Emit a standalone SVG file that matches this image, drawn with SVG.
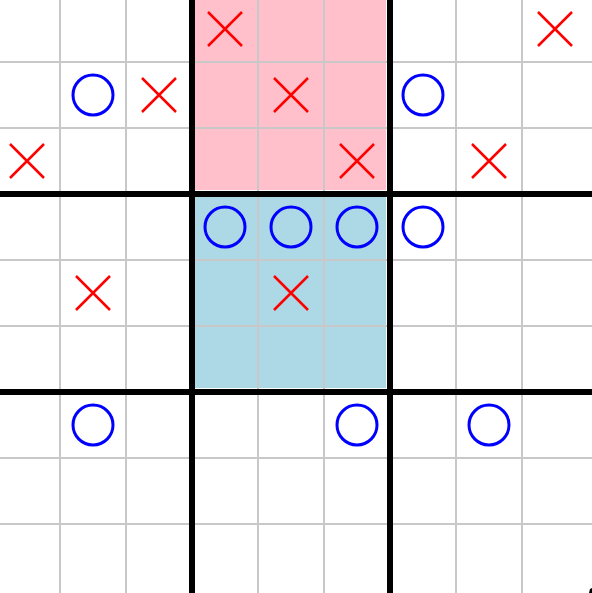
<svg xmlns="http://www.w3.org/2000/svg" width="592" height="593" viewBox="0 0 592 593">
  <style>
    .thin { stroke: #c8c8c8; stroke-width: 2; }
    .thick { stroke: #000; stroke-width: 6; }
    .o { fill: none; stroke: #0000ff; stroke-width: 3; }
    .x { stroke: #ff0000; stroke-width: 2.5; }
  </style>
  <defs>
    <circle id="O" r="20" class="o"/>
    <path id="X" d="M-17,-17 L17,17 M-17,17 L17,-17" class="x"/>
  </defs>
  <rect width="592" height="593" fill="#fff"/>
  <g id="fills">
    <rect x="192" y="-4" width="194" height="194" fill="#ffc0cb"/>
    <rect x="192" y="194" width="194" height="194" fill="#add8e6"/>
  </g>
  <g id="grid">
    <path class="thin" d="M60,0V593 M126,0V593 M258,0V593 M324,0V593 M456,0V593 M522,0V593 M0,62H592 M0,128H592 M0,260H592 M0,326H592 M0,458H592 M0,524H592"/>
    <path class="thick" d="M192,0V593 M390,0V593 M0,194H592 M0,392H592"/>
    <path d="M590,589 L592,588 L592,593 L589,593 Z" fill="#000"/>
  </g>
  <g id="marks">
    <use href="#X" x="225" y="29"/>
    <use href="#X" x="555" y="29"/>
    <use href="#O" x="93" y="95"/>
    <use href="#X" x="159" y="95"/>
    <use href="#X" x="291" y="95"/>
    <use href="#O" x="423" y="95"/>
    <use href="#X" x="27" y="161"/>
    <use href="#X" x="357" y="161"/>
    <use href="#X" x="489" y="161"/>
    <use href="#O" x="225" y="227"/>
    <use href="#O" x="291" y="227"/>
    <use href="#O" x="357" y="227"/>
    <use href="#O" x="423" y="227"/>
    <use href="#X" x="93" y="293"/>
    <use href="#X" x="291" y="293"/>
    <use href="#O" x="93" y="425"/>
    <use href="#O" x="357" y="425"/>
    <use href="#O" x="489" y="425"/>
  </g>
</svg>
